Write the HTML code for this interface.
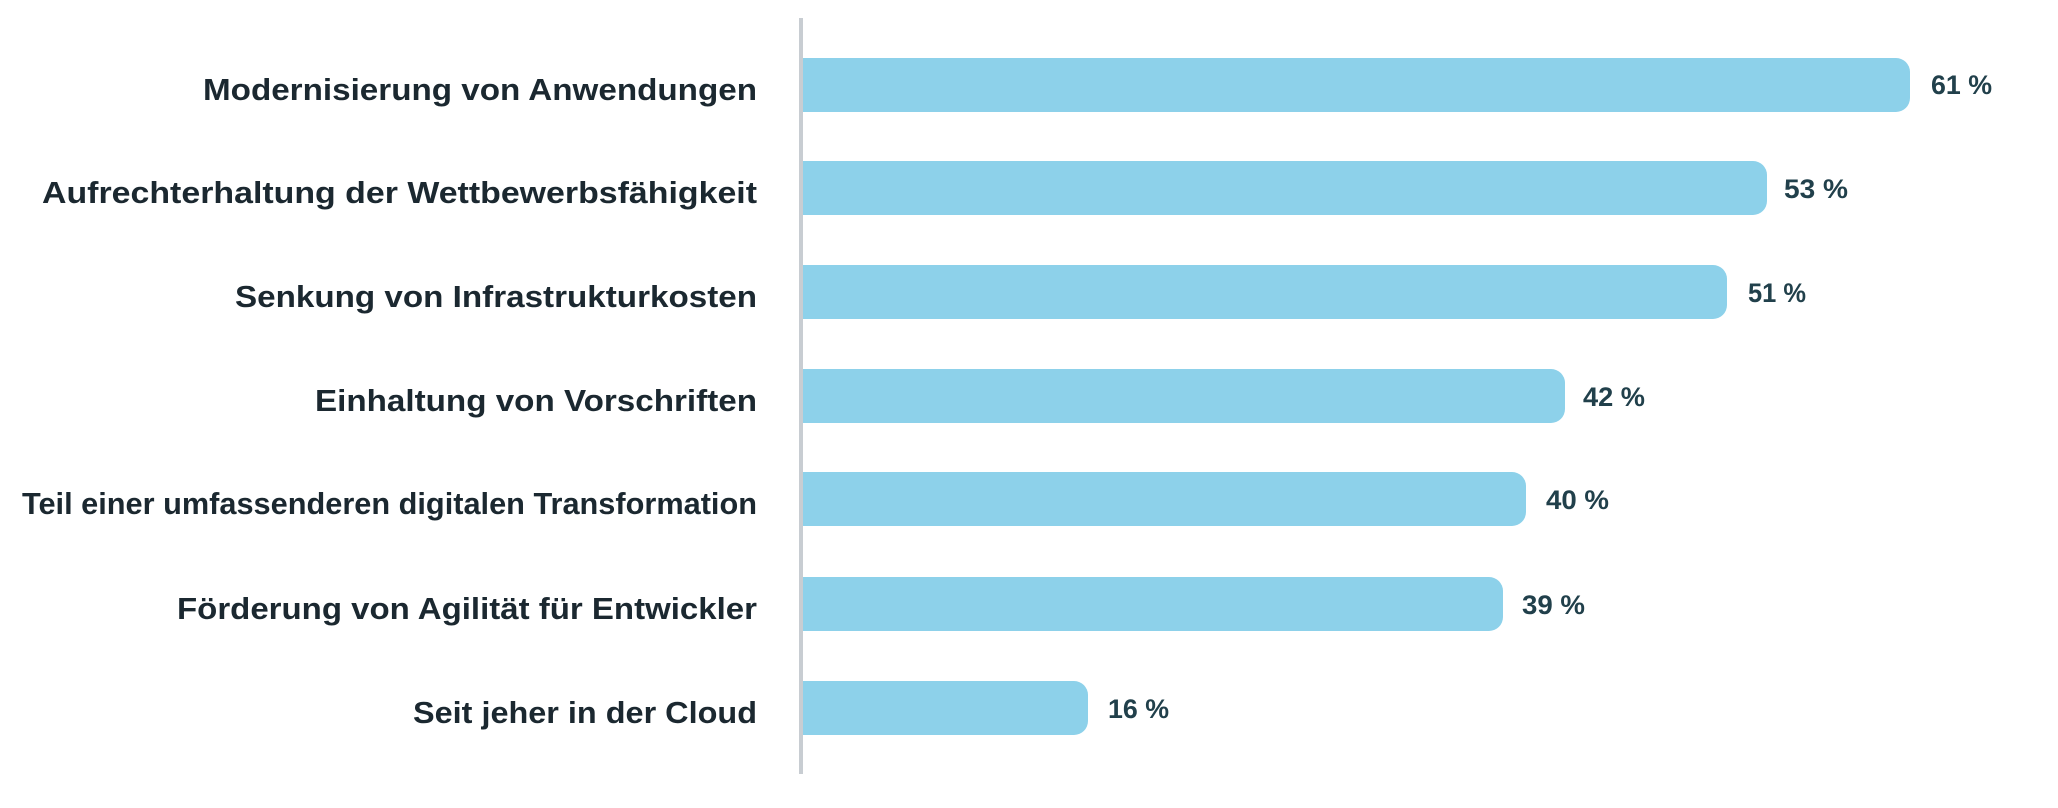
<!DOCTYPE html>
<html><head><meta charset="utf-8"><style>
html,body{margin:0;padding:0;background:#fff;}
svg{display:block;}
.l{font-family:"Liberation Sans",sans-serif;font-weight:bold;font-size:31px;fill:#1b2830;}
.p{font-family:"Liberation Sans",sans-serif;font-weight:bold;font-size:27px;fill:#21404b;}
</style></head><body>
<svg width="2058" height="808" viewBox="0 0 2058 808">
<rect x="799" y="18" width="4" height="756" fill="#c8cdd2"/>
<g fill="#8dd1ea">
<path d="M803 58 H1896 a14 14 0 0 1 14 14 V98 a14 14 0 0 1 -14 14 H803 Z"/>
<path d="M803 161 H1753 a14 14 0 0 1 14 14 V201 a14 14 0 0 1 -14 14 H803 Z"/>
<path d="M803 265 H1713 a14 14 0 0 1 14 14 V305 a14 14 0 0 1 -14 14 H803 Z"/>
<path d="M803 369 H1551 a14 14 0 0 1 14 14 V409 a14 14 0 0 1 -14 14 H803 Z"/>
<path d="M803 472 H1512 a14 14 0 0 1 14 14 V512 a14 14 0 0 1 -14 14 H803 Z"/>
<path d="M803 577 H1489 a14 14 0 0 1 14 14 V617 a14 14 0 0 1 -14 14 H803 Z"/>
<path d="M803 681 H1074 a14 14 0 0 1 14 14 V721 a14 14 0 0 1 -14 14 H803 Z"/>
</g>
<g class="l" text-anchor="end">
<text x="757" y="100" textLength="554" lengthAdjust="spacingAndGlyphs">Modernisierung von Anwendungen</text>
<text x="757" y="203" textLength="715" lengthAdjust="spacingAndGlyphs">Aufrechterhaltung der Wettbewerbsfähigkeit</text>
<text x="757" y="307" textLength="522" lengthAdjust="spacingAndGlyphs">Senkung von Infrastrukturkosten</text>
<text x="757" y="411" textLength="442" lengthAdjust="spacingAndGlyphs">Einhaltung von Vorschriften</text>
<text x="757" y="514" textLength="735" lengthAdjust="spacingAndGlyphs">Teil einer umfassenderen digitalen Transformation</text>
<text x="757" y="619" textLength="580" lengthAdjust="spacingAndGlyphs">Förderung von Agilität für Entwickler</text>
<text x="757" y="723" textLength="344" lengthAdjust="spacingAndGlyphs">Seit jeher in der Cloud</text>
</g>
<g class="p">
<text x="1931" y="94" textLength="61" lengthAdjust="spacingAndGlyphs">61 %</text>
<text x="1784" y="198" textLength="64" lengthAdjust="spacingAndGlyphs">53 %</text>
<text x="1748" y="302" textLength="58" lengthAdjust="spacingAndGlyphs">51 %</text>
<text x="1583" y="406" textLength="62" lengthAdjust="spacingAndGlyphs">42 %</text>
<text x="1546" y="509" textLength="63" lengthAdjust="spacingAndGlyphs">40 %</text>
<text x="1522" y="614" textLength="63" lengthAdjust="spacingAndGlyphs">39 %</text>
<text x="1108" y="718" textLength="61" lengthAdjust="spacingAndGlyphs">16 %</text>
</g>
</svg>
</body></html>
